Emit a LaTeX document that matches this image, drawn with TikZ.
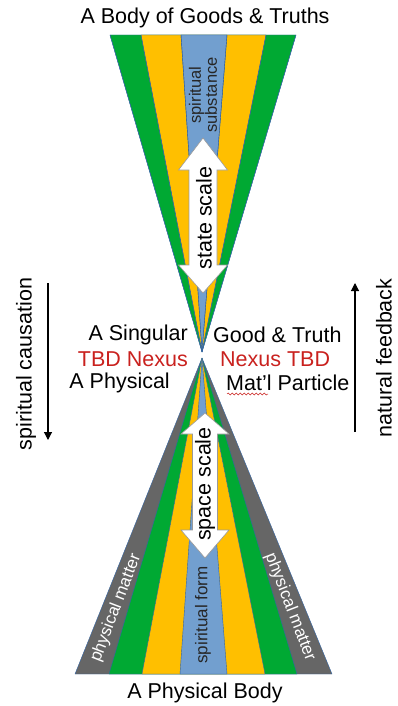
\documentclass[tikz,border=0pt]{standalone}
\usepackage{fontspec}
\setmainfont{Liberation Sans}
\usetikzlibrary{arrows.meta,decorations.pathmorphing}
\definecolor{bgreen}{HTML}{00A933}
\definecolor{bgold}{HTML}{FFBF00}
\definecolor{bblue}{HTML}{729FCF}
\definecolor{bgrey}{HTML}{666666}
\definecolor{bedge}{HTML}{3465A4}
\definecolor{bred}{HTML}{C9211E}
\tikzset{
  band/.style={draw=bedge, line width=0.4pt, line join=round},
  bigtext/.style={font=\fontsize{21.5}{24}\selectfont, inner sep=0pt},
  smalltext/.style={font=\fontsize{16.5}{18}\selectfont, inner sep=0pt, align=center},
  midtext/.style={font=\fontsize{17}{19}\selectfont, inner sep=0pt},
  redtext/.style={bigtext, text=bred},
  scalearrow/.style={fill=white, draw=gray!80, line width=0.6pt, line join=miter},
  sidearrow/.style={draw=black, line width=1.1pt, -{Triangle[length=8pt,width=8pt]}}
}
\begin{document}
\begin{tikzpicture}[x=1pt,y=-1pt]
\useasboundingbox (0,0) rectangle (398,706);
% top funnel
\coordinate (topapex) at (202,352);
\fill[band, fill=bgreen] (110,35) -- (296,35) -- (topapex) -- cycle;
\fill[band, fill=bgold] (141,35) -- (266,35) -- (topapex) -- cycle;
\fill[band, fill=bblue] (181,35) -- (227,35) -- (topapex) -- cycle;
% bottom funnel
\coordinate (botapex) at (202,358);
\filldraw[band, fill=bgrey] (75,674) -- (332,674) -- (botapex) -- cycle;
\filldraw[band, fill=bgreen] (109,674) -- (297,674) -- (botapex) -- cycle;
\filldraw[band, fill=bgold] (142,674) -- (265,674) -- (botapex) -- cycle;
\filldraw[band, fill=bblue] (180,674) -- (227,674) -- (botapex) -- cycle;
% top outlines drawn after fills
\draw[band] (110,35) -- (topapex) -- (296,35);
\draw[band] (141,35) -- (topapex) -- (266,35);
\draw[band] (181,35) -- (topapex) -- (227,35);
% scale arrows
\draw[scalearrow] (203,138) -- (227.5,170) -- (217,170) -- (217,265) -- (227.5,265) -- (203,293)
  -- (178.5,265) -- (189,265) -- (189,170) -- (178.5,170) -- cycle;
\draw[scalearrow] (205,413) -- (229,434) -- (217.5,434) -- (217.5,530) -- (229,530) -- (205,558)
  -- (181,530) -- (192.5,530) -- (192.5,434) -- (181,434) -- cycle;
\node[bigtext, rotate=90] (statescale) at (204,218) {state scale};
\node[bigtext, rotate=90] (spacescale) at (205,484) {space scale};
% band texts
\node[smalltext, rotate=90, text=black!85] (subst) at (203,95) {spiritual\\[-2pt]substance};
\node[midtext, rotate=90, text=black!85] (form) at (203,615) {spiritual form};
\node[midtext, rotate=69, text=white] (pmleft) at (116,608) {physical matter};
\node[midtext, rotate=-69, text=white] (pmright) at (290,607) {physical matter};
% titles
\node[bigtext] (toptitle) at (205,18) {A Body of Goods \& Truths};
\node[bigtext] (bottitle) at (205,693) {A Physical Body};
% middle labels
\node[bigtext, anchor=east] (sing) at (188,335) {A Singular};
\node[bigtext, anchor=west] (good) at (213,335) {Good \& Truth};
\node[redtext, anchor=east] (tbdl) at (188,359) {TBD Nexus};
\node[redtext, anchor=west] (tbdr) at (220,359) {Nexus TBD};
\node[bigtext, anchor=east] (phys) at (170,383) {A Physical};
\node[bigtext, anchor=west] (matl) at (226,383) {Mat’l Particle};
\coordinate (sqa) at (227,394);
\coordinate (sqb) at (268,394);
\draw[bred, line width=0.5pt, decorate, decoration={snake, amplitude=1pt, segment length=4pt}] (sqa) -- (sqb);
% side arrows
\coordinate (lcTop) at (48,283);
\coordinate (lcBot) at (48,440);
\coordinate (rfBot) at (355,432);
\coordinate (rfTop) at (355,283);
\draw[sidearrow] (lcTop) -- (lcBot);
\draw[sidearrow] (rfBot) -- (rfTop);
\node[bigtext, rotate=90] (cause) at (26,364) {spiritual causation};
\node[bigtext, rotate=90] (feed) at (384,358) {natural feedback};
\end{tikzpicture}
\end{document}
